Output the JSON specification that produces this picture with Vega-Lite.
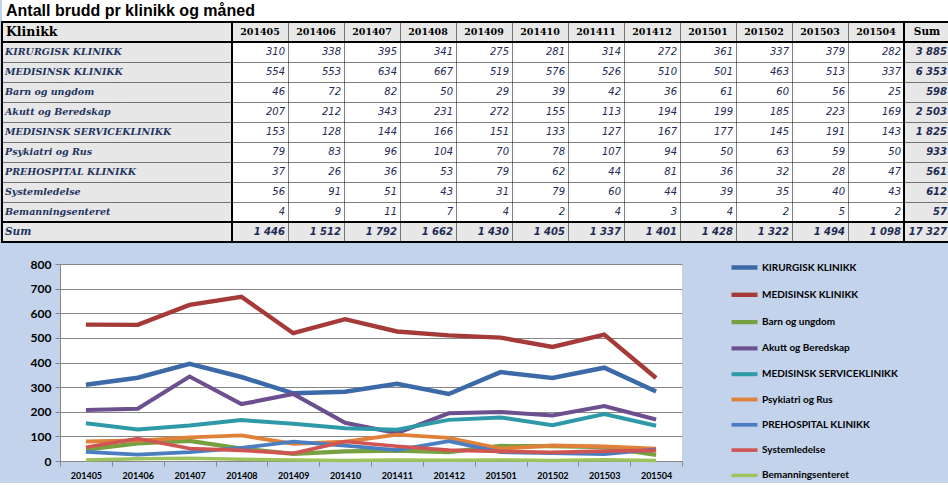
{
"$schema": "https://vega.github.io/schema/vega-lite/v6.json",
"padding": 0,
"background": "#c3d3ec",
"bounds": "full",
"spacing": 8,
"resolve": {"scale": {"color": "independent", "strokeWidth": "independent"}},
"config": {
  "locale": {"number": {"decimal": ",", "thousands": " ", "grouping": [3], "currency": ["", " kr"]}},
  "view": {"stroke": null},
  "text": {"baseline": "middle"}
},
"datasets": {"d": [
{"k":"KIRURGISK KLINIKK","m":"201405","v":310},{"k":"KIRURGISK KLINIKK","m":"201406","v":338},{"k":"KIRURGISK KLINIKK","m":"201407","v":395},{"k":"KIRURGISK KLINIKK","m":"201408","v":341},{"k":"KIRURGISK KLINIKK","m":"201409","v":275},{"k":"KIRURGISK KLINIKK","m":"201410","v":281},{"k":"KIRURGISK KLINIKK","m":"201411","v":314},{"k":"KIRURGISK KLINIKK","m":"201412","v":272},{"k":"KIRURGISK KLINIKK","m":"201501","v":361},{"k":"KIRURGISK KLINIKK","m":"201502","v":337},{"k":"KIRURGISK KLINIKK","m":"201503","v":379},{"k":"KIRURGISK KLINIKK","m":"201504","v":282},
{"k":"MEDISINSK KLINIKK","m":"201405","v":554},{"k":"MEDISINSK KLINIKK","m":"201406","v":553},{"k":"MEDISINSK KLINIKK","m":"201407","v":634},{"k":"MEDISINSK KLINIKK","m":"201408","v":667},{"k":"MEDISINSK KLINIKK","m":"201409","v":519},{"k":"MEDISINSK KLINIKK","m":"201410","v":576},{"k":"MEDISINSK KLINIKK","m":"201411","v":526},{"k":"MEDISINSK KLINIKK","m":"201412","v":510},{"k":"MEDISINSK KLINIKK","m":"201501","v":501},{"k":"MEDISINSK KLINIKK","m":"201502","v":463},{"k":"MEDISINSK KLINIKK","m":"201503","v":513},{"k":"MEDISINSK KLINIKK","m":"201504","v":337},
{"k":"Barn og ungdom","m":"201405","v":46},{"k":"Barn og ungdom","m":"201406","v":72},{"k":"Barn og ungdom","m":"201407","v":82},{"k":"Barn og ungdom","m":"201408","v":50},{"k":"Barn og ungdom","m":"201409","v":29},{"k":"Barn og ungdom","m":"201410","v":39},{"k":"Barn og ungdom","m":"201411","v":42},{"k":"Barn og ungdom","m":"201412","v":36},{"k":"Barn og ungdom","m":"201501","v":61},{"k":"Barn og ungdom","m":"201502","v":60},{"k":"Barn og ungdom","m":"201503","v":56},{"k":"Barn og ungdom","m":"201504","v":25},
{"k":"Akutt og Beredskap","m":"201405","v":207},{"k":"Akutt og Beredskap","m":"201406","v":212},{"k":"Akutt og Beredskap","m":"201407","v":343},{"k":"Akutt og Beredskap","m":"201408","v":231},{"k":"Akutt og Beredskap","m":"201409","v":272},{"k":"Akutt og Beredskap","m":"201410","v":155},{"k":"Akutt og Beredskap","m":"201411","v":113},{"k":"Akutt og Beredskap","m":"201412","v":194},{"k":"Akutt og Beredskap","m":"201501","v":199},{"k":"Akutt og Beredskap","m":"201502","v":185},{"k":"Akutt og Beredskap","m":"201503","v":223},{"k":"Akutt og Beredskap","m":"201504","v":169},
{"k":"MEDISINSK SERVICEKLINIKK","m":"201405","v":153},{"k":"MEDISINSK SERVICEKLINIKK","m":"201406","v":128},{"k":"MEDISINSK SERVICEKLINIKK","m":"201407","v":144},{"k":"MEDISINSK SERVICEKLINIKK","m":"201408","v":166},{"k":"MEDISINSK SERVICEKLINIKK","m":"201409","v":151},{"k":"MEDISINSK SERVICEKLINIKK","m":"201410","v":133},{"k":"MEDISINSK SERVICEKLINIKK","m":"201411","v":127},{"k":"MEDISINSK SERVICEKLINIKK","m":"201412","v":167},{"k":"MEDISINSK SERVICEKLINIKK","m":"201501","v":177},{"k":"MEDISINSK SERVICEKLINIKK","m":"201502","v":145},{"k":"MEDISINSK SERVICEKLINIKK","m":"201503","v":191},{"k":"MEDISINSK SERVICEKLINIKK","m":"201504","v":143},
{"k":"Psykiatri og Rus","m":"201405","v":79},{"k":"Psykiatri og Rus","m":"201406","v":83},{"k":"Psykiatri og Rus","m":"201407","v":96},{"k":"Psykiatri og Rus","m":"201408","v":104},{"k":"Psykiatri og Rus","m":"201409","v":70},{"k":"Psykiatri og Rus","m":"201410","v":78},{"k":"Psykiatri og Rus","m":"201411","v":107},{"k":"Psykiatri og Rus","m":"201412","v":94},{"k":"Psykiatri og Rus","m":"201501","v":50},{"k":"Psykiatri og Rus","m":"201502","v":63},{"k":"Psykiatri og Rus","m":"201503","v":59},{"k":"Psykiatri og Rus","m":"201504","v":50},
{"k":"PREHOSPITAL KLINIKK","m":"201405","v":37},{"k":"PREHOSPITAL KLINIKK","m":"201406","v":26},{"k":"PREHOSPITAL KLINIKK","m":"201407","v":36},{"k":"PREHOSPITAL KLINIKK","m":"201408","v":53},{"k":"PREHOSPITAL KLINIKK","m":"201409","v":79},{"k":"PREHOSPITAL KLINIKK","m":"201410","v":62},{"k":"PREHOSPITAL KLINIKK","m":"201411","v":44},{"k":"PREHOSPITAL KLINIKK","m":"201412","v":81},{"k":"PREHOSPITAL KLINIKK","m":"201501","v":36},{"k":"PREHOSPITAL KLINIKK","m":"201502","v":32},{"k":"PREHOSPITAL KLINIKK","m":"201503","v":28},{"k":"PREHOSPITAL KLINIKK","m":"201504","v":47},
{"k":"Systemledelse","m":"201405","v":56},{"k":"Systemledelse","m":"201406","v":91},{"k":"Systemledelse","m":"201407","v":51},{"k":"Systemledelse","m":"201408","v":43},{"k":"Systemledelse","m":"201409","v":31},{"k":"Systemledelse","m":"201410","v":79},{"k":"Systemledelse","m":"201411","v":60},{"k":"Systemledelse","m":"201412","v":44},{"k":"Systemledelse","m":"201501","v":39},{"k":"Systemledelse","m":"201502","v":35},{"k":"Systemledelse","m":"201503","v":40},{"k":"Systemledelse","m":"201504","v":43},
{"k":"Bemanningsenteret","m":"201405","v":4},{"k":"Bemanningsenteret","m":"201406","v":9},{"k":"Bemanningsenteret","m":"201407","v":11},{"k":"Bemanningsenteret","m":"201408","v":7},{"k":"Bemanningsenteret","m":"201409","v":4},{"k":"Bemanningsenteret","m":"201410","v":2},{"k":"Bemanningsenteret","m":"201411","v":4},{"k":"Bemanningsenteret","m":"201412","v":3},{"k":"Bemanningsenteret","m":"201501","v":4},{"k":"Bemanningsenteret","m":"201502","v":2},{"k":"Bemanningsenteret","m":"201503","v":5},{"k":"Bemanningsenteret","m":"201504","v":2}
]},
"vconcat": [
 {"spacing": 0, "bounds": "flush", "vconcat": [
  {
   "width": 948, "height": 22,
   "view": {"fill": "white", "stroke": null},
   "data": {"values": [{"t": "Antall brudd pr klinikk og måned"}]},
   "mark": {"type": "text", "align": "left", "dx": 4, "font": "Liberation Sans", "fontSize": 16, "fontWeight": "bold", "color": "black"},
   "encoding": {
     "x": {"datum": 0, "type": "quantitative", "scale": {"domain": [0, 1]}, "axis": null},
     "text": {"field": "t"}
   }
  },
  {"spacing": 0, "bounds": "flush", "hconcat": [
   {
    "width": 230, "height": 220,
    "view": {"fill": "#e7e7e7", "stroke": "black", "strokeWidth": 2},
    "encoding": {
      "y": {"field": "k", "type": "nominal", "scale": {"domain": ["Klinikk","KIRURGISK KLINIKK","MEDISINSK KLINIKK","Barn og ungdom","Akutt og Beredskap","MEDISINSK SERVICEKLINIKK","Psykiatri og Rus","PREHOSPITAL KLINIKK","Systemledelse","Bemanningsenteret","Sum"], "paddingInner": 0, "paddingOuter": 0},
            "axis": {"title": null, "labels": false, "ticks": false, "domain": false, "grid": true, "gridDash": [1, 1], "gridColor": "black", "tickBand": "extent", "zindex": 1}}
    },
    "layer": [
     {"data": {"values": [{"k": "Klinikk"}, {"k": "Sum"}]},
      "mark": {"type": "rect", "fill": "#e7e7e7", "stroke": "black", "strokeWidth": 2},
      "encoding": {"x": {"datum": 0, "type": "quantitative", "scale": {"domain": [0, 1]}, "axis": null}, "x2": {"datum": 1}}},
     {"data": {"name": "d"},
      "transform": [{"aggregate": [{"op": "sum", "field": "v", "as": "t"}], "groupby": ["k"]}],
      "mark": {"type": "text", "align": "left", "dx": 3, "font": "DejaVu Serif", "fontSize": 9.5, "fontWeight": "bold", "fontStyle": "italic", "color": "#1f3461"},
      "encoding": {"x": {"datum": 0, "type": "quantitative"}, "text": {"field": "k"}}},
     {"data": {"values": [{"k": "Klinikk"}]},
      "mark": {"type": "text", "align": "left", "dx": 4, "font": "DejaVu Serif", "fontSize": 12.5, "fontWeight": "bold", "color": "black"},
      "encoding": {"x": {"datum": 0, "type": "quantitative"}, "text": {"field": "k"}}},
     {"data": {"values": [{"k": "Sum"}]},
      "mark": {"type": "text", "align": "left", "dx": 3, "font": "DejaVu Serif", "fontSize": 10.5, "fontWeight": "bold", "fontStyle": "italic", "color": "#1f3461"},
      "encoding": {"x": {"datum": 0, "type": "quantitative"}, "text": {"field": "k"}}}
    ]
   },
   {
    "width": 672, "height": 220,
    "view": {"fill": "white", "stroke": "black", "strokeWidth": 2},
    "data": {"name": "d"},
    "encoding": {
      "y": {"field": "k", "type": "nominal", "scale": {"domain": ["Klinikk","KIRURGISK KLINIKK","MEDISINSK KLINIKK","Barn og ungdom","Akutt og Beredskap","MEDISINSK SERVICEKLINIKK","Psykiatri og Rus","PREHOSPITAL KLINIKK","Systemledelse","Bemanningsenteret","Sum"], "paddingInner": 0, "paddingOuter": 0},
            "axis": {"title": null, "labels": false, "ticks": false, "domain": false, "grid": true, "gridDash": [1, 1], "gridColor": "black", "tickBand": "extent", "zindex": 1}}
    },
    "layer": [
     {"data": {"values": [{"k": "Klinikk"}, {"k": "Sum"}]},
      "mark": {"type": "rect", "fill": "#e7e7e7", "stroke": "black", "strokeWidth": 2}},
     {"mark": {"type": "text", "align": "right", "dx": -3, "font": "DejaVu Sans", "fontSize": 10, "fontStyle": "italic", "color": "#1f2b55"},
      "encoding": {
        "x": {"field": "m", "type": "ordinal", "bandPosition": 1, "scale": {"paddingInner": 0, "paddingOuter": 0},
              "axis": {"title": null, "labels": false, "ticks": false, "domain": false, "grid": true, "gridDash": [1, 1], "gridColor": "black", "tickBand": "extent", "zindex": 1}},
        "text": {"field": "v", "type": "quantitative"}}},
     {"transform": [{"aggregate": [{"op": "sum", "field": "v", "as": "t"}], "groupby": ["m"]}],
      "mark": {"type": "text", "font": "DejaVu Serif", "fontSize": 9.5, "fontWeight": "bold", "color": "black"},
      "encoding": {"x": {"field": "m", "type": "ordinal", "scale": {"paddingInner": 0, "paddingOuter": 0}}, "y": {"datum": "Klinikk"}, "text": {"field": "m"}}},
     {"transform": [{"aggregate": [{"op": "sum", "field": "v", "as": "t"}], "groupby": ["m"]}],
      "mark": {"type": "text", "align": "right", "dx": -3, "font": "DejaVu Sans", "fontSize": 10, "fontWeight": "bold", "fontStyle": "italic", "color": "#1f2b55"},
      "encoding": {"x": {"field": "m", "type": "ordinal", "bandPosition": 1, "scale": {"paddingInner": 0, "paddingOuter": 0}}, "y": {"datum": "Sum"}, "text": {"field": "t", "type": "quantitative", "format": ",d"}}}
    ]
   },
   {
    "width": 46, "height": 220,
    "view": {"fill": "#e7e7e7", "stroke": "black", "strokeWidth": 2},
    "encoding": {
      "y": {"field": "k", "type": "nominal", "scale": {"domain": ["Klinikk","KIRURGISK KLINIKK","MEDISINSK KLINIKK","Barn og ungdom","Akutt og Beredskap","MEDISINSK SERVICEKLINIKK","Psykiatri og Rus","PREHOSPITAL KLINIKK","Systemledelse","Bemanningsenteret","Sum"], "paddingInner": 0, "paddingOuter": 0},
            "axis": {"title": null, "labels": false, "ticks": false, "domain": false, "grid": true, "gridDash": [1, 1], "gridColor": "black", "tickBand": "extent", "zindex": 1}}
    },
    "layer": [
     {"data": {"values": [{"k": "Klinikk"}, {"k": "Sum"}]},
      "mark": {"type": "rect", "fill": "#e7e7e7", "stroke": "black", "strokeWidth": 2},
      "encoding": {"x": {"datum": 0, "type": "quantitative", "scale": {"domain": [0, 1]}, "axis": null}, "x2": {"datum": 1}}},
     {"data": {"name": "d"},
      "transform": [{"aggregate": [{"op": "sum", "field": "v", "as": "t"}], "groupby": ["k"]}],
      "mark": {"type": "text", "align": "right", "dx": -3, "font": "DejaVu Sans", "fontSize": 10, "fontWeight": "bold", "fontStyle": "italic", "color": "#1f2b55"},
      "encoding": {"x": {"datum": 1, "type": "quantitative"}, "text": {"field": "t", "type": "quantitative", "format": ",d"}}},
     {"data": {"values": [{"k": "Klinikk", "h": "Sum"}]},
      "mark": {"type": "text", "align": "center", "font": "DejaVu Serif", "fontSize": 10.5, "fontWeight": "bold", "color": "black"},
      "encoding": {"x": {"datum": 0.5, "type": "quantitative"}, "text": {"field": "h"}}},
     {"data": {"name": "d"},
      "transform": [{"aggregate": [{"op": "sum", "field": "v", "as": "t"}]}],
      "mark": {"type": "text", "align": "right", "dx": -3, "font": "DejaVu Sans", "fontSize": 10, "fontWeight": "bold", "fontStyle": "italic", "color": "#1f2b55"},
      "encoding": {"x": {"datum": 1, "type": "quantitative"}, "y": {"datum": "Sum"}, "text": {"field": "t", "type": "quantitative", "format": ",d"}}}
    ]
   }
  ]}
 ]},
 {"spacing": 0, "hconcat": [
  {"width": 1, "height": 1, "data": {"values": []}, "mark": "rule", "encoding": {}},
  {
   "width": 622, "height": 197,
   "data": {"name": "d"},
   "view": {"fill": "white", "stroke": null},
   "mark": {"type": "line"},
   "encoding": {
     "x": {"field": "m", "type": "ordinal", "scale": {"paddingInner": 0, "paddingOuter": 0},
           "axis": {"title": null, "labelAngle": 0, "tickBand": "extent", "labelFont": "Lato", "labelFontSize": 9, "labelFontWeight": "bold", "labelColor": "black", "labelPadding": 5, "domainColor": "#868686", "tickColor": "#868686", "tickSize": 5, "grid": false}},
     "y": {"field": "v", "type": "quantitative", "scale": {"domain": [0, 800], "nice": false},
           "axis": {"title": null, "values": [0, 100, 200, 300, 400, 500, 600, 700, 800], "grid": true, "gridColor": "#868686", "gridOpacity": 1, "domainColor": "#868686", "tickColor": "#868686", "tickSize": 5, "labelFont": "Lato", "labelFontSize": 12, "labelFontWeight": "bold", "labelColor": "black", "labelPadding": 4, "minExtent": 57}},
     "color": {"field": "k", "type": "nominal",
       "scale": {"domain": ["KIRURGISK KLINIKK","MEDISINSK KLINIKK","Barn og ungdom","Akutt og Beredskap","MEDISINSK SERVICEKLINIKK","Psykiatri og Rus","PREHOSPITAL KLINIKK","Systemledelse","Bemanningsenteret"],
                 "range": ["#3c6aa8","#a53a38","#77a040","#6b4f8f","#2e9aa8","#e0813a","#4a7ec0","#d05552","#9dc35e"]},
       "legend": {"title": null, "orient": "none", "legendX": 669, "legendY": -12, "symbolType": "stroke", "symbolSize": 676, "symbolStrokeWidth": 3.5, "labelFont": "Lato", "labelFontSize": 10, "labelFontWeight": "bold", "labelColor": "black", "rowPadding": 2.3, "labelOffset": 2, "padding": 0}},
     "strokeWidth": {"field": "k", "type": "nominal",
       "scale": {"domain": ["KIRURGISK KLINIKK","MEDISINSK KLINIKK","Barn og ungdom","Akutt og Beredskap","MEDISINSK SERVICEKLINIKK","Psykiatri og Rus","PREHOSPITAL KLINIKK","Systemledelse","Bemanningsenteret"],
                 "range": [4.5, 3.5, 3, 3, 3, 3, 3, 3, 3]},
       "legend": null}
   }
  }
 ], "resolve": {"scale": {"color": "independent", "strokeWidth": "independent"}}}
]
}
